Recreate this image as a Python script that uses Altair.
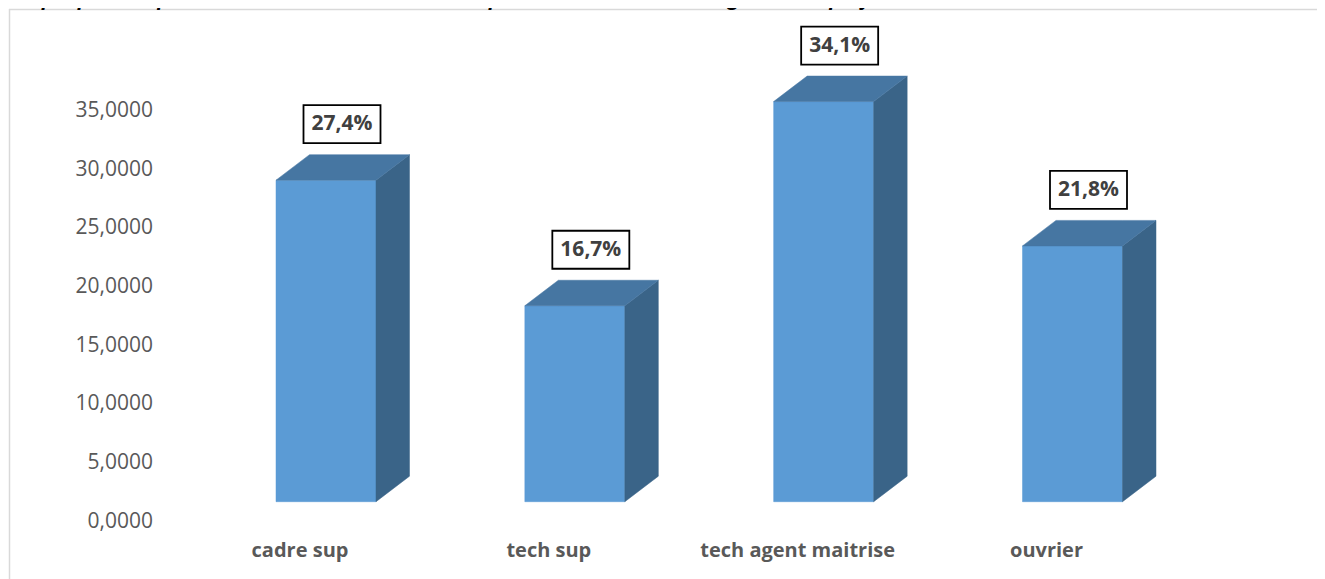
import altair as alt
import pandas as pd

# ---- data ----
categories = ["cadre sup", "tech sup", "tech agent maitrise", "ouvrier"]
values = [27.4, 16.7, 34.1, 21.8]
value_labels = ["27,4%", "16,7%", "34,1%", "21,8%"]
y_ticks = [0, 5, 10, 15, 20, 25, 30, 35]
title_text = ("Graphique7 : Répartition de la masse salariale des permanents selon la "
              "catégorie socioprofessionnelle au troisième trimestre 2023")

# ---- layout / styling constants ----
W, H = 1309, 571
X_RANGE = [292, 1038.5]      # pixel positions of category slots 0 and 3
Y_RANGE = [513.7, 103]       # pixel positions of values 0 and 35
PX_X = (X_RANGE[1] - X_RANGE[0]) / 3
PX_Y = (Y_RANGE[0] - Y_RANGE[1]) / 35

FRONT_LEFT = -24 / PX_X
FRONT_W = 100 / PX_X
DEPTH_X = 33.5 / PX_X
DEPTH_Y = 25.5 / PX_Y
BASE = 20 / PX_Y
LABEL_DX = 42 / PX_X
LABEL_DY = 56 / PX_Y
XLAB_Y = (Y_RANGE[0] - 549) / PX_Y

FRONT_COLOR = "#5B9BD5"
TOP_COLOR = "#4676A2"
SIDE_COLOR = "#3A6488"
FONT = "Open Sans"

# ---- geometry tables built from the arrays ----
front_rows, top_rows, side_rows, lab_rows, xlab_rows = [], [], [], [], []
for i, (c, v, lab) in enumerate(zip(categories, values, value_labels)):
    xl = i + FRONT_LEFT
    xr = xl + FRONT_W
    vt = v + BASE
    front_rows.append(dict(cat=c, x=xl, x2=xr, y=vt, y2=BASE))
    top_rows += [
        dict(cat=c, x=xl, y=vt, y2=vt),
        dict(cat=c, x=xl + DEPTH_X, y=vt + DEPTH_Y, y2=vt),
        dict(cat=c, x=xr, y=vt + DEPTH_Y, y2=vt),
        dict(cat=c, x=xr + DEPTH_X, y=vt + DEPTH_Y, y2=vt + DEPTH_Y),
    ]
    side_rows += [
        dict(cat=c, x=xr, y=vt, y2=BASE),
        dict(cat=c, x=xr + DEPTH_X, y=vt + DEPTH_Y, y2=BASE + DEPTH_Y),
    ]
    lab_rows.append(dict(cat=c, x=i + LABEL_DX, y=vt + LABEL_DY, text=lab))
    xlab_rows.append(dict(cat=c, x=i, y=XLAB_Y, text=c))

front_df = pd.DataFrame(front_rows)
top_df = pd.DataFrame(top_rows)
side_df = pd.DataFrame(side_rows)
lab_df = pd.DataFrame(lab_rows)
xlab_df = pd.DataFrame(xlab_rows)
ytick_df = pd.DataFrame({"y": y_ticks,
                         "text": [f"{t:.4f}".replace(".", ",") for t in y_ticks]})

xs = alt.Scale(domain=[0, 3], range=X_RANGE, zero=False, nice=False)
ys = alt.Scale(domain=[0, 35], range=Y_RANGE, zero=False, nice=False)

front = alt.Chart(front_df).mark_rect(color=FRONT_COLOR, stroke=FRONT_COLOR, strokeWidth=0.5).encode(
    x=alt.X("x:Q", scale=xs, axis=None),
    x2="x2:Q",
    y=alt.Y("y:Q", scale=ys, axis=None),
    y2="y2:Q",
)

top = alt.Chart(top_df).mark_area(color=TOP_COLOR, orient="vertical", interpolate="linear",
                                  stroke=TOP_COLOR, strokeWidth=0.5).encode(
    x=alt.X("x:Q", scale=xs, axis=None),
    y=alt.Y("y:Q", scale=ys, axis=None, stack=None),
    y2="y2:Q",
    detail="cat:N",
)

side = alt.Chart(side_df).mark_area(color=SIDE_COLOR, orient="vertical", interpolate="linear",
                                   stroke=SIDE_COLOR, strokeWidth=0.5).encode(
    x=alt.X("x:Q", scale=xs, axis=None),
    y=alt.Y("y:Q", scale=ys, axis=None, stack=None),
    y2="y2:Q",
    detail="cat:N",
)

ylabels = alt.Chart(ytick_df).mark_text(
    font=FONT, fontSize=21, color="#595959", align="right", baseline="middle",
).encode(
    x=alt.value(145),
    y=alt.Y("y:Q", scale=ys, axis=None),
    text="text:N",
)

box = alt.Chart(lab_df).mark_point(
    shape="M-1,-0.4935L1,-0.4935L1,0.4935L-1,0.4935Z",
    size=77 * 77, filled=True, fill="white", stroke="#000000", strokeWidth=1.8, opacity=1,
).encode(
    x=alt.X("x:Q", scale=xs, axis=None),
    y=alt.Y("y:Q", scale=ys, axis=None),
)

box_text = alt.Chart(lab_df).mark_text(
    font=FONT, fontSize=21, fontWeight="bold", color="#404040", align="center", baseline="middle",
).encode(
    x=alt.X("x:Q", scale=xs, axis=None),
    y=alt.Y("y:Q", scale=ys, axis=None),
    text="text:N",
)

xlabels = alt.Chart(xlab_df).mark_text(
    font=FONT, fontSize=20, fontWeight="bold", color="#595959", align="center", baseline="alphabetic",
).encode(
    x=alt.X("x:Q", scale=xs, axis=None),
    y=alt.Y("y:Q", scale=ys, axis=None),
    text="text:N",
)

frame_top = alt.Chart(pd.DataFrame({"k": [0]})).mark_rule(color="#D9D9D9", strokeWidth=1.5).encode(
    x=alt.value(1), x2=alt.value(W), y=alt.value(1.5)
)
frame_left = alt.Chart(pd.DataFrame({"k": [0]})).mark_rule(color="#D9D9D9", strokeWidth=1.5).encode(
    x=alt.value(1.5), y=alt.value(1), y2=alt.value(H)
)

title = alt.Chart(pd.DataFrame({"t": [title_text]})).mark_text(
    font=FONT, fontSize=20, fontWeight="bold", fontStyle="italic", color="#000000",
    align="left", baseline="alphabetic",
).encode(x=alt.value(0), y=alt.value(-3), text="t:N")

chart = alt.layer(
    front, side, top, frame_top, frame_left, ylabels, box, box_text, xlabels, title
).properties(
    width=W, height=H, autosize=alt.AutoSizeParams(type="none"), padding=0,
    background="white",
).configure_view(stroke=None)

chart.save("out.html", embed_options={"renderer": "svg", "actions": False})
